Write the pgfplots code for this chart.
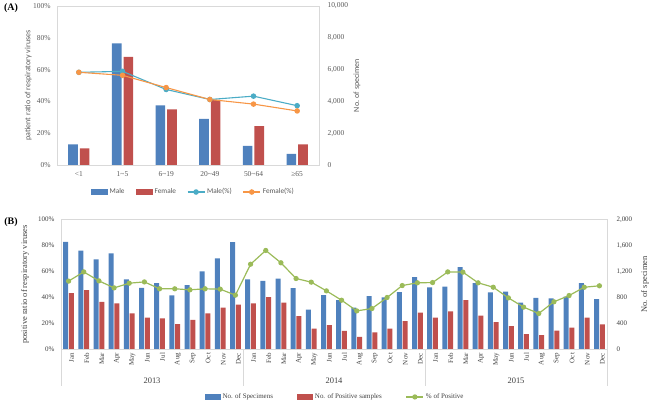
\documentclass[border=0pt]{standalone}
\usepackage{fontspec}
\setmainfont{Liberation Serif}
\newfontfamily\carlito{Carlito}
\usepackage{pgfplots}
\usepackage{pgfplotstable}
\pgfplotsset{compat=1.18}
\definecolor{cBlue}{HTML}{4F81BD}
\definecolor{cRed}{HTML}{C0504D}
\definecolor{cTeal}{HTML}{4BACC6}
\definecolor{cOrange}{HTML}{F79646}
\definecolor{cGreen}{HTML}{9BBB59}
\definecolor{cFrame}{HTML}{D9D9D9}
\definecolor{cTxtA}{HTML}{595959}
\definecolor{cTxtB}{HTML}{404040}

\pgfplotstableread{
x male female malep femalep
0 1300 1050 58.3 58.3
1 7650 6800 58.9 56.4
2 3750 3500 47.5 48.7
3 2900 4100 41.2 41.2
4 1200 2450 43.3 38.3
5 700 1300 37.3 34.0
}\tblA

\pgfplotstableread{
x spec pos pct
0 1656 867 52.6
1 1523 913 59.7
2 1385 733 52.8
3 1477 708 47.4
4 1077 554 51.0
5 949 492 52.0
6 1021 477 46.7
7 831 390 46.7
8 990 456 45.9
9 1200 554 46.7
10 1400 646 46.4
11 1651 692 41.8
12 1077 708 65.6
13 1056 805 76.2
14 1092 723 66.7
15 944 513 54.6
16 615 323 51.8
17 836 374 45.1
18 759 287 37.9
19 646 195 29.7
20 821 262 31.5
21 800 323 40.0
22 882 436 49.2
23 1113 569 51.3
24 954 492 51.5
25 969 585 59.7
26 1267 759 59.5
27 1021 523 51.3
28 877 421 47.9
29 892 359 39.7
30 723 236 32.6
31 795 221 27.7
32 785 292 36.7
33 815 338 41.5
34 1021 492 47.9
35 774 385 49.0
}\tblB

\pgfplotsset{
  barleg/.style={legend image code/.code={\fill[##1, draw=none] (0bp,-2.6bp) rectangle (17bp,2.6bp);}},
  barlegB/.style={legend image code/.code={\fill[##1, draw=none] (0bp,-2.6bp) rectangle (16bp,2.6bp);}},
}

\begin{document}
\begin{tikzpicture}
\useasboundingbox (0,0) rectangle (650bp,405bp);

% ---------------- Panel A ----------------
\node[font=\bfseries\fontsize{10}{12}\selectfont] at (11bp,397bp) {(A)};

\begin{axis}[at={(57bp,240bp)}, anchor=south west, scale only axis,
  width=262bp, height=159bp,
  xmin=-0.5, xmax=5.5, ymin=0, ymax=10000,
  scaled y ticks=false,
  axis line style={draw=none}, xtick=\empty,
  ytick={0,2000,4000,6000,8000,10000},
  yticklabels={0,{2,000},{4,000},{6,000},{8,000},{10,000}},
  ytick pos=right, yticklabel pos=right, major tick length=0,
  yticklabel style={font=\fontsize{7.5}{8}\selectfont, text=cTxtA, anchor=west, xshift=5bp},
  ylabel={No. of specimen},
  ylabel style={at={(axis description cs:1.145,0.5)}, anchor=center,
    font=\carlito\fontsize{8}{9}\selectfont, text=cTxtA},
  clip=false]
\addplot[ybar, bar width=9.6bp, bar shift=-5.8bp, fill=cBlue, draw=none] table[x=x,y=male] {\tblA};
\addplot[ybar, bar width=9.6bp, bar shift=5.8bp, fill=cRed, draw=none] table[x=x,y=female] {\tblA};
\end{axis}

\begin{axis}[at={(57bp,240bp)}, anchor=south west, scale only axis,
  width=262bp, height=159bp,
  xmin=-0.5, xmax=5.5, ymin=0, ymax=100,
  axis line style={draw=cFrame},
  xtick={0,1,2,3,4,5},
  xticklabels={<1,1\textasciitilde 5,6\textasciitilde 19,20\textasciitilde 49,50\textasciitilde 64,≥65},
  ytick={0,20,40,60,80,100},
  yticklabels={0\%,20\%,40\%,60\%,80\%,100\%},
  ytick pos=left, xtick pos=bottom, major tick length=0,
  ticklabel style={font=\fontsize{7.5}{8}\selectfont, text=cTxtA},
  yticklabel style={xshift=-3bp},
  xticklabel style={yshift=-3bp},
  ylabel={patient ratio of respiratory viruses},
  ylabel style={at={(axis description cs:-0.11,0.5)}, anchor=center,
    font=\carlito\fontsize{8}{9}\selectfont, text=cTxtA},
  legend style={at={(0.52,-0.17)}, anchor=center, draw=none, fill=none,
    font=\carlito\fontsize{7.3}{8}\selectfont, text=cTxtA,
    /tikz/every even column/.append style={column sep=9bp},
    /tikz/every odd column/.append style={column sep=0bp}},
  legend columns=4,
  clip=false]
\addlegendimage{barleg, fill=cBlue}
\addlegendentry{Male}
\addlegendimage{barleg, fill=cRed}
\addlegendentry{Female}
\addplot[color=cTeal, line width=1.1pt, mark=*, mark size=2.2pt] table[x=x,y=malep] {\tblA};
\addlegendentry{Male(\%)}
\addplot[color=cOrange, line width=1.1pt, mark=*, mark size=2.2pt] table[x=x,y=femalep] {\tblA};
\addlegendentry{Female(\%)}
\end{axis}

% ---------------- Panel B ----------------
\node[font=\bfseries\fontsize{10}{12}\selectfont] at (11bp,183bp) {(B)};

\begin{axis}[at={(61bp,55.5bp)}, anchor=south west, scale only axis,
  width=546bp, height=130bp,
  xmin=-0.5, xmax=35.5, ymin=0, ymax=2000,
  scaled y ticks=false,
  axis line style={draw=none}, xtick=\empty,
  ytick={0,400,800,1200,1600,2000},
  yticklabels={0,400,800,{1,200},{1,600},{2,000}},
  ytick pos=right, yticklabel pos=right, major tick length=0,
  yticklabel style={font=\fontsize{7}{8}\selectfont, text=cTxtB, anchor=west, xshift=6bp},
  ylabel={No. of specimen},
  ylabel style={at={(axis description cs:1.0696,0.5)}, anchor=center,
    font=\fontsize{8.5}{10}\selectfont, text=cTxtB},
  clip=false]
\addplot[ybar, bar width=5bp, bar shift=-2.9bp, fill=cBlue, draw=none] table[x=x,y=spec] {\tblB};
\addplot[ybar, bar width=5bp, bar shift=2.9bp, fill=cRed, draw=none] table[x=x,y=pos] {\tblB};
\end{axis}

\begin{axis}[at={(61bp,55.5bp)}, anchor=south west, scale only axis,
  width=546bp, height=130bp,
  xmin=-0.5, xmax=35.5, ymin=0, ymax=100,
  axis line style={draw=cFrame},
  xtick={0,...,35},
  xticklabels={Jan,Feb,Mar,Apr,May,Jun,Jul,Aug,Sep,Oct,Nov,Dec,
               Jan,Feb,Mar,Apr,May,Jun,Jul,Aug,Sep,Oct,Nov,Dec,
               Jan,Feb,Mar,Apr,May,Jun,Jul,Aug,Sep,Oct,Nov,Dec},
  ytick={0,20,40,60,80,100},
  yticklabels={0\%,20\%,40\%,60\%,80\%,100\%},
  ytick pos=left, xtick pos=bottom, major tick length=0,
  ticklabel style={font=\fontsize{7}{8}\selectfont, text=cTxtB},
  yticklabel style={xshift=-3bp},
  xticklabel style={rotate=90, anchor=east, xshift=0bp, yshift=-3bp},
  ylabel={positive ratio of respiratory viruses},
  ylabel style={at={(axis description cs:-0.066,0.5)}, anchor=center,
    font=\fontsize{8.5}{10}\selectfont, text=cTxtB},
  legend style={at={(0.502,-0.365)}, anchor=center, draw=none, fill=none,
    font=\fontsize{7}{8}\selectfont, text=cTxtB,
    /tikz/every even column/.append style={column sep=22bp},
    /tikz/every odd column/.append style={column sep=0bp}},
  legend columns=3,
  clip=false]
\addlegendimage{barlegB, fill=cBlue}
\addlegendentry{No. of Specimens}
\addlegendimage{barlegB, fill=cRed}
\addlegendentry{No. of Positive samples}
\addplot[color=cGreen, line width=1.2pt, mark=*, mark size=2pt] table[x=x,y=pct] {\tblB};
\addlegendentry{\% of Positive}
\draw[cFrame] (axis cs:-0.5,0) -- ++(0bp,-36bp);
\draw[cFrame] (axis cs:11.5,0) -- ++(0bp,-36bp);
\draw[cFrame] (axis cs:23.5,0) -- ++(0bp,-36bp);
\draw[cFrame] (axis cs:35.5,0) -- ++(0bp,-36bp);
\node[font=\fontsize{8.5}{10}\selectfont, text=cTxtB] at ([yshift=-31bp]axis cs:5.5,0) {2013};
\node[font=\fontsize{8.5}{10}\selectfont, text=cTxtB] at ([yshift=-31bp]axis cs:17.5,0) {2014};
\node[font=\fontsize{8.5}{10}\selectfont, text=cTxtB] at ([yshift=-31bp]axis cs:29.5,0) {2015};
\end{axis}
\end{tikzpicture}
\end{document}
